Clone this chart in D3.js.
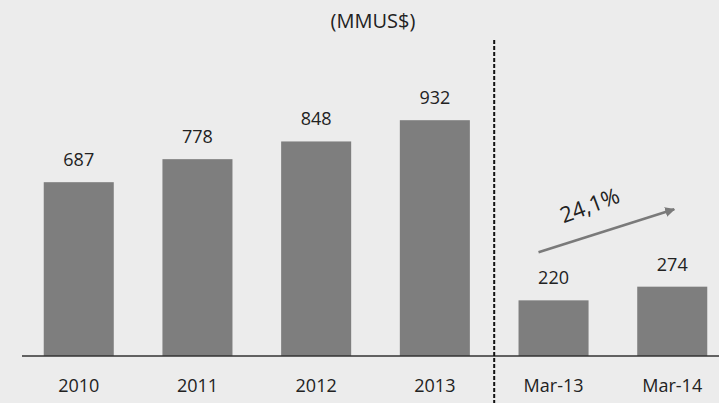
<!DOCTYPE html>
<html><head><meta charset="utf-8">
<script src="https://cdn.jsdelivr.net/npm/d3@7"></script>
<style>html,body{margin:0;padding:0;background:#ececec;}svg{display:block;}</style>
</head><body>
<svg id="chart" width="719" height="403"></svg>
<script>
const categories = ["2010","2011","2012","2013","Mar-13","Mar-14"];
const values = [687, 778, 848, 932, 220, 274];
const title = "(MMUS$)";
const growthLabel = "24,1%";

const W = 719, H = 403;
const svg = d3.select("#chart");
const font = "'Open Sans', sans-serif";

svg.append("rect").attr("width", W).attr("height", H).attr("fill", "#ececec");

const x = d3.scaleBand().domain(categories).range([20, 731]).paddingInner(0.41).paddingOuter(0.2);
const y = d3.scaleLinear().domain([0, 1000]).range([356, 103]);

// title
svg.append("text").attr("x", 373).attr("y", 28).attr("text-anchor", "middle")
  .attr("font-family", font).attr("font-size", 20).attr("fill", "#222").text(title);

// bars
svg.selectAll("rect.bar").data(values).enter().append("rect").attr("class", "bar")
  .attr("x", (d, i) => x(categories[i]))
  .attr("y", d => y(d))
  .attr("width", x.bandwidth())
  .attr("height", d => y(0) - y(d))
  .attr("fill", "#7e7e7e");

// value labels
svg.selectAll("text.val").data(values).enter().append("text").attr("class", "val")
  .attr("x", (d, i) => x(categories[i]) + x.bandwidth() / 2)
  .attr("y", d => y(d) - 16)
  .attr("text-anchor", "middle").attr("font-family", font).attr("font-size", 18)
  .attr("fill", "#222").text(d => d);

// baseline
svg.append("line").attr("x1", 22).attr("x2", W).attr("y1", y(0)).attr("y2", y(0))
  .attr("stroke", "#333").attr("stroke-width", 1.5);

// axis labels
const xAxis = d3.axisBottom(x).tickSize(0).tickPadding(23);
const gx = svg.append("g").attr("transform", `translate(0,${y(0)})`).call(xAxis);
gx.select(".domain").remove();
gx.selectAll("text").attr("font-family", font).attr("font-size", 18).attr("fill", "#222");

// dashed separator
const sepX = (x("2013") + x.bandwidth() + x("Mar-13")) / 2;
svg.append("line").attr("x1", sepX).attr("x2", sepX).attr("y1", 40).attr("y2", H)
  .attr("stroke", "#111").attr("stroke-width", 2).attr("stroke-dasharray", "4,2");

// growth arrow
const defs = svg.append("defs");
defs.append("marker").attr("id", "ah").attr("viewBox", "0 0 10 10").attr("refX", 9).attr("refY", 5)
  .attr("markerWidth", 4).attr("markerHeight", 4).attr("orient", "auto")
  .append("path").attr("d", "M0,0 L10,5 L0,10 Z").attr("fill", "#7a7a7a");
const ax1 = x("Mar-13") + 20, ay1 = y(410);
const ax2 = x("Mar-14") + 37, ay2 = y(580);
svg.append("line").attr("x1", ax1).attr("y1", ay1).attr("x2", ax2).attr("y2", ay2)
  .attr("stroke", "#7a7a7a").attr("stroke-width", 2.5).attr("marker-end", "url(#ah)");
const angle = Math.atan2(ay2 - ay1, ax2 - ax1) * 180 / Math.PI - 3;
const tx = (ax1 + ax2) / 2 - 14, ty = (ay1 + ay2) / 2 - 18;
svg.append("text").attr("transform", `translate(${tx},${ty}) rotate(${angle})`)
  .attr("text-anchor", "middle").attr("font-family", font).attr("font-size", 22)
  .attr("fill", "#222").text(growthLabel);
</script>
</body></html>
